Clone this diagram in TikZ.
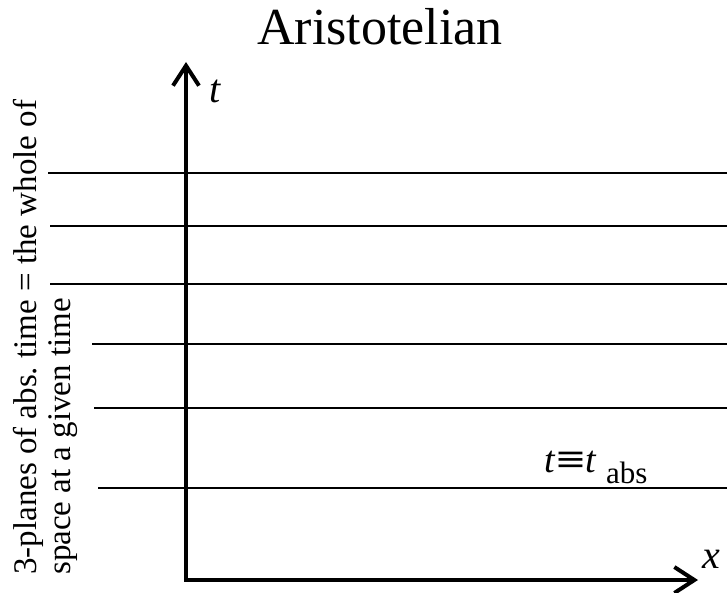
\documentclass[tikz,border=0pt]{standalone}
\usepackage{fontspec}
\setmainfont{Liberation Serif}
\usetikzlibrary{arrows.meta}
\frenchspacing
\tikzset{
  axis/.style={line width=4pt, {Straight Barb[length=20pt,width=26pt]}-{Straight Barb[length=20pt,width=26pt]}},
  plane/.style={line width=2.4pt},
  lbl/.style={inner sep=0pt, font=\fontsize{40}{40}\selectfont\itshape}
}
\begin{document}
\begin{tikzpicture}[x=1pt,y=-1pt]
  \useasboundingbox (0,0) rectangle (727,593);
  % title
  \node[inner sep=0pt, anchor=base, font=\fontsize{52}{52}\selectfont] (title) at (380,45) {Aristotelian};
  % planes of constant absolute time
  \foreach \y/\xl in {173/48, 226/50, 284/50, 344/92, 408/94, 488/98}
    \draw[plane] (\xl,\y) -- (727,\y);
  % axes
  \coordinate (top) at (186,62);
  \coordinate (origin) at (186,580);
  \coordinate (right) at (698,580);
  \draw[axis] (top) -- (origin) -- (right);
  \node[lbl, anchor=base west] (tlabel) at (209,103) {t};
  \node[lbl, anchor=base west] (xlabel) at (702,568) {x};
  % equation label
  \node[inner sep=0pt, anchor=base west, font=\fontsize{38}{38}\selectfont] (eq) at (544,472)
    {\textit{t}\kern0.5pt\scalebox{1.35}[1]{\textbf{≡}}\kern0.5pt\textit{t}\kern9pt\raisebox{-11pt}{\fontsize{31}{31}\selectfont abs}};
  % rotated caption
  \node[inner sep=0pt, rotate=90, anchor=north west, align=left,
        font=\fontsize{33}{34}\selectfont] (caption) at (13,575)
    {3-planes of abs. time = the whole of\\space at a given time};
\end{tikzpicture}
\end{document}
